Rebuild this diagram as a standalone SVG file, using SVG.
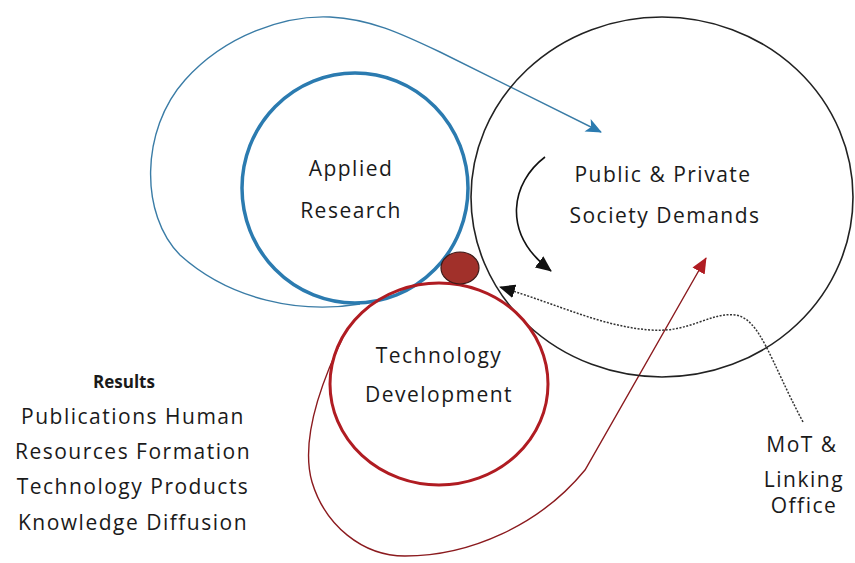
<svg xmlns="http://www.w3.org/2000/svg" width="855" height="563" viewBox="0 0 855 563">
<defs>
<style>
text{font-family:"Open Sans","DejaVu Sans",sans-serif;font-size:21px;fill:#1a1a1a;letter-spacing:1.5px;text-anchor:middle}
.thin{fill:none;stroke-width:1.4}
</style>
<marker id="mBlue" markerUnits="userSpaceOnUse" markerWidth="16" markerHeight="14" viewBox="0 0 16 14" refX="15" refY="7" orient="auto"><path d="M0,0 L16,7 L0,14 L4,7 Z" fill="#2b7bb0"/></marker>
<marker id="mBlack" markerUnits="userSpaceOnUse" markerWidth="16" markerHeight="14" viewBox="0 0 16 14" refX="15" refY="7" orient="auto"><path d="M0,0 L16,7 L0,14 Z" fill="#111"/></marker>
<marker id="mRed" markerUnits="userSpaceOnUse" markerWidth="16" markerHeight="14" viewBox="0 0 16 14" refX="15" refY="7" orient="auto"><path d="M0,0 L16,7 L0,14 Z" fill="#b01c22"/></marker>
</defs>
<rect width="855" height="563" fill="#fff"/>
<g id="connectors">
<path class="thin" stroke="#3a7ca6" d="M360,304 C300,314 230,300 180,255 C140,215 140,130 185,80 C225,35 285,15 330,17 C370,19 400,33 440,52 L601,132" marker-end="url(#mBlue)"/>
<path class="thin" stroke="#8b1a1e" d="M345,333 C322,380 300,440 312,482 C325,525 362,556 405,556 C470,556 540,525 585,470 L706,258" marker-end="url(#mRed)"/>
<path fill="none" stroke="#111" stroke-width="1.6" d="M545,157 C512,182 500,232 551,271" marker-end="url(#mBlack)"/>
<path fill="none" stroke="#333" stroke-width="1.5" stroke-dasharray="2,1.5" d="M803,422 C770,360 760,318 735,315 C710,312 690,333 650,330 C600,326 560,305 500,287" marker-end="url(#mBlack)"/>
</g>
<g id="public-private">
<ellipse cx="662" cy="197" rx="191" ry="180" fill="none" stroke="#222" stroke-width="1.6"/>
<text x="663" y="182">Public &amp; Private</text>
<text x="665" y="223">Society Demands</text>
</g>
<g id="applied-research">
<ellipse cx="355" cy="188" rx="113" ry="115" fill="none" stroke="#2b7bb0" stroke-width="3.5"/>
<text x="351" y="176">Applied</text>
<text x="351" y="218">Research</text>
</g>
<g id="technology-development">
<ellipse cx="439" cy="384" rx="109" ry="101" fill="none" stroke="#b01c22" stroke-width="3"/>
<text x="439" y="363">Technology</text>
<text x="439" y="402">Development</text>
</g>
<g id="link-dot">
<ellipse cx="460" cy="268" rx="19" ry="16" fill="#a1302a" stroke="#3a1a18" stroke-width="1.2"/>
</g>
<g id="results">
<text x="124" y="388" style="font-weight:bold;font-size:17px;letter-spacing:0">Results</text>
<text x="133" y="424">Publications Human</text>
<text x="133" y="459">Resources Formation</text>
<text x="133" y="494">Technology Products</text>
<text x="133" y="530">Knowledge Diffusion</text>
</g>
<g id="mot-office">
<text x="802" y="452">MoT &amp;</text>
<text x="804" y="487">Linking</text>
<text x="804" y="513">Office</text>
</g>
</svg>
